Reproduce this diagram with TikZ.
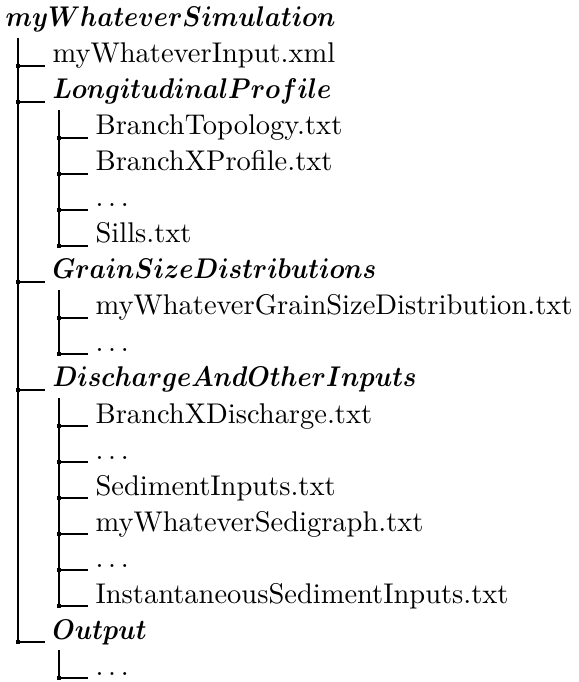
\documentclass[tikz,border=0pt]{standalone}
\newcommand{\dirtxt}[1]{\scalebox{0.9}[1]{$#1$}}
\begin{document}
\begin{tikzpicture}[x=0.3509pt,y=-0.3509pt,
  item/.style={anchor=base west, inner xsep=2.46pt, inner ysep=0pt},
  dirname/.style={item, font=\boldmath},
  conn/.style={line width=0.4pt},
  sq/.style={fill=black}]
\useasboundingbox (0,0) rectangle (578,682);
% root
\node[dirname] (r) at (-2,27) {\dirtxt{myWhateverSimulation}};
\coordinate (rtop) at (18,38);
% level 1
\coordinate (m1) at (18,66);   \node[item] (t1) at (45,63) {myWhateverInput.xml};
\coordinate (m2) at (18,102);  \node[dirname] (t2) at (45,99) {\dirtxt{LongitudinalProfile}};
\coordinate (m7) at (18,282);  \node[dirname] (t7) at (45,279) {\dirtxt{GrainSizeDistributions}};
\coordinate (m10) at (18,390); \node[dirname] (t10) at (45,387) {\dirtxt{DischargeAndOtherInputs}};
\coordinate (m17) at (18,642); \node[dirname] (t17) at (45,639) {\dirtxt{Output}};
% level 2 under Longitudinal
\coordinate (s2) at (59,110);
\coordinate (m3) at (59,138);  \node[item] (t3) at (88,135) {BranchTopology.txt};
\coordinate (m4) at (59,174);  \node[item] (t4) at (88,171) {BranchXProfile.txt};
\coordinate (m5) at (59,210);  \node[item] (t5) at (88,207) {$\ldots$};
\coordinate (m6) at (59,246);  \node[item] (t6) at (88,243) {Sills.txt};
% level 2 under Grain
\coordinate (s7) at (59,290);
\coordinate (m8) at (59,318);  \node[item] (t8) at (88,315) {myWhateverGrainSizeDistribution.txt};
\coordinate (m9) at (59,354);  \node[item] (t9) at (88,351) {$\ldots$};
% level 2 under Discharge
\coordinate (s10) at (59,398);
\coordinate (m11) at (59,426); \node[item] (t11) at (88,423) {BranchXDischarge.txt};
\coordinate (m12) at (59,462); \node[item] (t12) at (88,459) {$\ldots$};
\coordinate (m13) at (59,498); \node[item] (t13) at (88,495) {SedimentInputs.txt};
\coordinate (m14) at (59,534); \node[item] (t14) at (88,531) {myWhateverSedigraph.txt};
\coordinate (m15) at (59,570); \node[item] (t15) at (88,567) {$\ldots$};
\coordinate (m16) at (59,606); \node[item] (t16) at (88,603) {InstantaneousSedimentInputs.txt};
% level 2 under Output
\coordinate (s17) at (59,650);
\coordinate (m18) at (59,678); \node[item] (t18) at (88,675) {$\ldots$};
% trunks
\draw[conn] (rtop) -- (m17);
\draw[conn] (s2) -- (m6);
\draw[conn] (s7) -- (m9);
\draw[conn] (s10) -- (m16);
\draw[conn] (s17) -- (m18);
% branches and markers
\foreach \i in {1,2,3,4,5,6,7,8,9,10,11,12,13,14,15,16,17,18}{
  \draw[conn] (m\i) -- (m\i -| t\i.base west);
  \fill[sq] (m\i) +(-2,-2) rectangle +(2,2);
}
\end{tikzpicture}
\end{document}
